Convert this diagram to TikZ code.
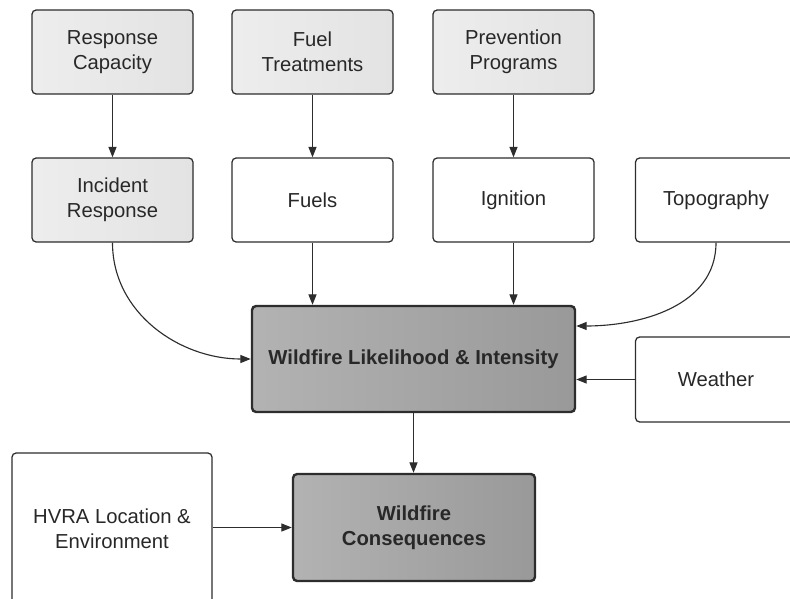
\documentclass[tikz,border=0pt]{standalone}
\usepackage{fontspec}
\setmainfont{Liberation Sans}
\usetikzlibrary{arrows.meta,positioning}
\definecolor{EdgeGray}{RGB}{45,45,45}
\definecolor{TextGray}{RGB}{40,40,40}

\begin{document}
\begin{tikzpicture}[
  x=0.025cm, y=-0.025cm,
  font=\fontsize{14.4}{17.8}\selectfont,
  box/.style={
    rectangle,
    rounded corners=3pt,
    draw=EdgeGray,
    line width=0.9pt,
    fill=white,
    align=center,
    text=TextGray,
    minimum width=4.025cm,
    minimum height=2.1cm
  },
  lightbox/.style={box, left color=black!7, right color=black!11},
  darkbox/.style={box, line width=1.7pt, left color=black!30, right color=black!40,
    font=\fontsize{14.4}{17.8}\selectfont\bfseries},
  arrow/.style={-{Triangle[length=2.6mm,width=2mm]}, line width=0.8pt, draw=EdgeGray}
]

  \useasboundingbox (0,0) rectangle (790,599);
  \clip (0,0) rectangle (790,599);

  % top row
  \node[lightbox] (capacity)  at (112.5,52) {Response\\Capacity};
  \node[lightbox] (treatment) at (312.5,52) {Fuel\\Treatments};
  \node[lightbox] (prevention) at (513.5,52) {Prevention\\Programs};

  % second row
  \node[lightbox] (incident) at (112.5,200) {Incident\\Response};
  \node[box] (fuels)    at (312.5,200) {Fuels};
  \node[box] (ignition) at (513.5,200) {Ignition};
  \node[box] (topo)     at (716,200) {Topography};

  % core
  \node[darkbox, minimum width=8.075cm, minimum height=2.65cm] (likelihood) at (413.5,359) {Wildfire Likelihood \& Intensity};
  \node[box, minimum height=2.125cm] (weather) at (716,379.5) {Weather};

  \node[darkbox, minimum width=6.05cm, minimum height=2.675cm] (consequences) at (414,527.5) {Wildfire\\Consequences};
  \node[box, minimum width=5cm, minimum height=3.8cm] (hvra) at (112,529) {HVRA Location \&\\Environment};

  \draw[arrow] (capacity.south)   -- (incident.north);
  \draw[arrow] (treatment.south)  -- (fuels.north);
  \draw[arrow] (prevention.south) -- (ignition.north);

  \draw[arrow] (fuels.south)    -- (fuels.south |- likelihood.north);
  \draw[arrow] (ignition.south) -- (ignition.south |- likelihood.north);
  \draw[arrow] (incident.south) to[out=-90, in=180] (likelihood.west);
  \draw[arrow] (topo.south) to[out=-90, in=0] ([yshift=0.825cm]likelihood.east);
  \draw[arrow] (weather.west) -- (weather.west -| likelihood.east);

  \draw[arrow] (likelihood.south) -- (likelihood.south |- consequences.north);
  \draw[arrow] (hvra.east |- consequences.west) -- (consequences.west);

\end{tikzpicture}
\end{document}
